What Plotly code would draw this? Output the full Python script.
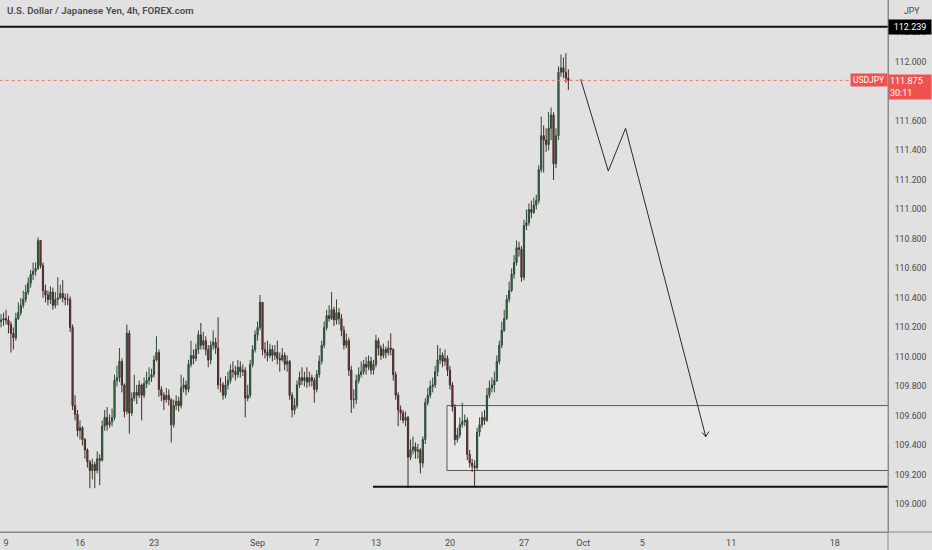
import plotly.graph_objects as go

# ---------------- data (USDJPY 4h, FOREX.com) ----------------
first_open = 110.24
close = [
    110.25, 110.26,
    110.25, 110.22, 110.16, 110.13, 110.26, 110.30,
    110.35, 110.39, 110.44, 110.50, 110.56, 110.58,
    110.60, 110.79, 110.62, 110.45, 110.42, 110.39,
    110.44, 110.35, 110.39, 110.40, 110.43, 110.40,
    110.39, 110.39, 110.20, 109.67, 109.61, 109.50,
    109.52, 109.44, 109.37, 109.29, 109.23, 109.27,
    109.23, 109.31, 109.30, 109.53, 109.59, 109.54,
    109.56, 109.59, 109.84, 109.86, 109.97, 109.81,
    109.63, 110.16, 109.62, 109.72, 109.76, 109.74,
    109.81, 109.74, 109.82, 109.84, 109.86, 109.88,
    109.98, 110.03, 109.78, 109.74, 109.71, 109.74,
    109.71, 109.54, 109.67, 109.70, 109.67, 109.79,
    109.81, 109.78, 109.95, 110.01, 109.99, 110.05,
    110.15, 110.08, 110.11, 110.05, 109.98, 110.08,
    110.10, 110.06, 109.81, 109.81, 109.74, 109.81,
    109.84, 109.91, 109.90, 109.88, 109.93, 109.90,
    109.91, 109.72, 109.74, 109.95, 110.05, 110.15,
    110.20, 110.37, 110.05, 110.03, 110.01, 110.05,
    110.01, 110.03, 109.99, 109.98, 110.01, 109.95,
    109.97, 109.74, 109.64, 109.67, 109.81, 109.86,
    109.84, 109.86, 109.83, 109.86, 109.84, 109.78,
    109.88, 109.97, 110.08, 110.20, 110.28, 110.26,
    110.32, 110.25, 110.30, 110.26, 110.18, 110.08,
    110.11, 109.91, 109.71, 109.71, 109.84, 109.88,
    109.90, 109.95, 109.93, 109.97, 109.91, 109.95,
    110.11, 110.06, 110.01, 110.05, 110.03, 110.06,
    110.05, 109.88, 109.74, 109.64, 109.62, 109.57,
    109.59, 109.32, 109.37, 109.39, 109.36, 109.37,
    109.28, 109.44, 109.69, 109.74, 109.80, 109.81,
    109.90, 109.98, 110.01, 109.97, 109.99, 109.91,
    109.81, 109.66, 109.44, 109.47, 109.54, 109.56,
    109.57, 109.34, 109.28, 109.26, 109.25, 109.49,
    109.54, 109.59, 109.57, 109.74, 109.79, 109.81,
    109.84, 109.97, 110.08, 110.18, 110.26, 110.39,
    110.45, 110.56, 110.64, 110.74, 110.73, 110.54,
    110.89, 110.91, 111.00, 110.98, 111.03, 111.06,
    111.27, 111.50, 111.47, 111.44, 111.55, 111.64,
    111.31, 111.50, 111.93, 111.96, 111.93, 111.89,
    111.875,
]
high = [
    110.29, 110.30,
    110.32, 110.28, 110.24, 110.20, 110.30, 110.37,
    110.40, 110.45, 110.49, 110.54, 110.59, 110.64,
    110.64, 110.81, 110.79, 110.64, 110.49, 110.45,
    110.48, 110.47, 110.44, 110.54, 110.49, 110.52,
    110.43, 110.43, 110.41, 110.22, 109.74, 109.64,
    109.57, 109.53, 109.45, 109.38, 109.30, 109.31,
    109.29, 109.36, 109.34, 109.57, 109.64, 109.66,
    109.61, 109.65, 109.88, 109.94, 110.06, 109.99,
    109.82, 110.22, 110.18, 109.76, 109.88, 109.81,
    109.84, 109.82, 109.86, 109.90, 109.93, 109.92,
    110.01, 110.14, 110.05, 109.80, 109.76, 109.79,
    109.78, 109.72, 109.71, 109.74, 109.73, 109.88,
    109.86, 109.84, 109.98, 110.11, 110.05, 110.09,
    110.18, 110.23, 110.17, 110.14, 110.08, 110.11,
    110.18, 110.13, 110.27, 109.86, 109.83, 109.87,
    109.90, 109.95, 109.97, 109.94, 109.98, 109.97,
    109.95, 109.93, 109.81, 109.98, 110.08, 110.18,
    110.24, 110.42, 110.37, 110.10, 110.11, 110.09,
    110.08, 110.08, 110.11, 110.03, 110.06, 110.03,
    110.01, 109.98, 109.76, 109.72, 109.84, 109.90,
    109.93, 109.90, 109.93, 109.90, 109.88, 109.86,
    109.91, 110.01, 110.11, 110.24, 110.32, 110.35,
    110.44, 110.34, 110.39, 110.33, 110.29, 110.21,
    110.16, 110.13, 109.94, 109.78, 109.88, 109.93,
    109.97, 109.98, 110.00, 110.01, 110.00, 109.98,
    110.15, 110.13, 110.08, 110.09, 110.07, 110.11,
    110.16, 110.06, 109.90, 109.76, 109.67, 109.64,
    109.63, 109.60, 109.44, 109.46, 109.42, 109.41,
    109.38, 109.46, 109.72, 109.79, 109.84, 109.86,
    109.94, 110.08, 110.06, 110.03, 110.05, 110.01,
    109.94, 109.83, 109.68, 109.52, 109.59, 109.69,
    109.61, 109.59, 109.37, 109.31, 109.30, 109.52,
    109.59, 109.63, 109.64, 109.79, 109.84, 109.86,
    109.90, 110.01, 110.11, 110.24, 110.32, 110.42,
    110.51, 110.60, 110.69, 110.79, 110.78, 110.75,
    110.93, 111.00, 111.04, 111.06, 111.08, 111.10,
    111.30, 111.63, 111.57, 111.55, 111.66, 111.69,
    111.66, 111.55, 111.97, 112.05, 112.03, 112.06,
    111.95,
]
low = [
    110.20, 110.21,
    110.22, 110.16, 110.03, 110.05, 110.11, 110.25,
    110.28, 110.33, 110.37, 110.42, 110.47, 110.52,
    110.55, 110.59, 110.60, 110.40, 110.37, 110.35,
    110.36, 110.32, 110.33, 110.35, 110.39, 110.37,
    110.35, 110.35, 110.17, 109.64, 109.57, 109.46,
    109.44, 109.40, 109.31, 109.25, 109.11, 109.17,
    109.11, 109.21, 109.13, 109.29, 109.50, 109.50,
    109.52, 109.53, 109.57, 109.80, 109.83, 109.76,
    109.59, 109.61, 109.48, 109.60, 109.70, 109.68,
    109.72, 109.57, 109.72, 109.79, 109.81, 109.83,
    109.86, 109.97, 109.73, 109.70, 109.64, 109.69,
    109.67, 109.42, 109.52, 109.64, 109.63, 109.65,
    109.76, 109.74, 109.76, 109.93, 109.95, 109.97,
    110.02, 110.05, 110.05, 110.01, 109.93, 109.95,
    110.05, 110.02, 109.78, 109.76, 109.71, 109.72,
    109.78, 109.82, 109.86, 109.84, 109.86, 109.86,
    109.87, 109.59, 109.70, 109.72, 109.93, 110.03,
    110.11, 110.18, 110.01, 109.99, 109.97, 109.99,
    109.97, 109.98, 109.95, 109.90, 109.97, 109.91,
    109.90, 109.71, 109.59, 109.61, 109.65, 109.79,
    109.81, 109.80, 109.79, 109.80, 109.80, 109.69,
    109.76, 109.86, 109.95, 110.06, 110.18, 110.24,
    110.25, 110.21, 110.22, 110.22, 110.14, 110.05,
    110.06, 109.87, 109.62, 109.65, 109.68, 109.82,
    109.86, 109.88, 109.88, 109.91, 109.88, 109.88,
    109.93, 110.01, 109.98, 109.99, 109.99, 110.01,
    110.01, 109.84, 109.71, 109.53, 109.57, 109.55,
    109.53, 109.11, 109.30, 109.34, 109.31, 109.31,
    109.21, 109.25, 109.41, 109.67, 109.72, 109.76,
    109.79, 109.87, 109.95, 109.93, 109.94, 109.87,
    109.78, 109.63, 109.40, 109.42, 109.45, 109.52,
    109.53, 109.30, 109.25, 109.22, 109.12, 109.23,
    109.46, 109.52, 109.54, 109.56, 109.72, 109.76,
    109.76, 109.83, 109.95, 110.06, 110.17, 110.25,
    110.37, 110.44, 110.53, 110.62, 110.68, 110.51,
    110.52, 110.86, 110.89, 110.94, 110.97, 111.00,
    111.04, 111.25, 111.25, 111.39, 111.40, 111.47,
    111.20, 111.28, 111.47, 111.90, 111.89, 111.86,
    111.81,
]
bar_index = list(range(-2, -2 + len(close)))
open_ = [first_open] + close[:-1]

# time axis (bar numbers, 6 bars per trading day; future space per calendar day)
tick_bars = [0, 30, 60, 102, 126, 150, 180, 210, 234, 258, 294, 336]
tick_labels = ["9", "16", "23", "Sep", "7", "13", "20", "27", "Oct", "5", "11", "18"]
x_view = [-2.43, 357.6]

# price axis
price_ticks = [109.0, 109.2, 109.4, 109.6, 109.8, 110.0, 110.2, 110.4, 110.6,
               110.8, 111.0, 111.2, 111.4, 111.6, 111.8, 112.0, 112.2, 112.4]
y_view = [108.813, 112.420]

# drawings
resistance_level = 112.239
last_price = 111.875
countdown = "30:11"
support_level = 109.12
support_start_bar = 148.8
zone_top = 109.67
zone_bottom = 109.23
zone_start_bar = 178.8
path_bars = [233.0, 244.2, 251.2, 283.7]
path_prices = [111.883, 111.26, 111.55, 109.46]
head_bars = [282.2, 283.7, 285.0]
head_prices = [109.488, 109.46, 109.494]

BG = "#e1e1e1"
TXT = "#4a4a4a"
FONT = "Roboto"

fig = go.Figure()

fig.add_trace(go.Candlestick(
    x=bar_index, open=open_, high=high, low=low, close=close,
    increasing=dict(line=dict(color="#2c4a35", width=1), fillcolor="#3d7350"),
    decreasing=dict(line=dict(color="#4a2a2a", width=1), fillcolor="#8a3a3a"),
    whiskerwidth=0, hoverinfo="skip", showlegend=False,
))

# forecast path
fig.add_trace(go.Scatter(x=path_bars, y=path_prices, mode="lines",
                         line=dict(color="#2a2a2a", width=1), hoverinfo="skip"))
fig.add_trace(go.Scatter(x=head_bars, y=head_prices, mode="lines",
                         line=dict(color="#2a2a2a", width=1), hoverinfo="skip"))

shapes = [
    # demand zone
    dict(type="rect", xref="x", yref="y", x0=zone_start_bar, x1=x_view[1] + 5,
         y0=zone_bottom, y1=zone_top, fillcolor="#e8e8e8",
         line=dict(color="#5a5a5a", width=1), layer="below"),
    # resistance
    dict(type="line", xref="x", yref="y", x0=x_view[0] - 5, x1=x_view[1] + 5,
         y0=resistance_level, y1=resistance_level, line=dict(color="#111111", width=2)),
    # support
    dict(type="line", xref="x", yref="y", x0=support_start_bar, x1=x_view[1] + 5,
         y0=support_level, y1=support_level, line=dict(color="#111111", width=2)),
    # last price dotted line
    dict(type="line", xref="x", yref="y", x0=x_view[0] - 5, x1=x_view[1] + 5,
         y0=last_price, y1=last_price, line=dict(color="#f07070", width=1, dash="dot")),
    # axis frame extensions
    dict(type="line", xref="paper", yref="paper", x0=0, x1=1.06, y0=0, y1=0,
         line=dict(color="#8a8a8a", width=1)),
    dict(type="line", xref="paper", yref="paper", x0=1, x1=1, y0=-0.05, y1=1,
         line=dict(color="#8a8a8a", width=1)),
]

annotations = [
    dict(xref="paper", yref="paper", x=5 / 888, y=1 - 11 / 532, xanchor="left", yanchor="middle",
         text="U.S. Dollar / Japanese Yen, 4h, FOREX.com", showarrow=False,
         font=dict(family=FONT, size=9.7, color=TXT, weight=600)),
    dict(xref="paper", yref="y", x=1, y=resistance_level, xanchor="left", yanchor="middle",
         text="112.239", showarrow=False, bgcolor="#000000", width=40, height=12,
         borderpad=1, font=dict(family=FONT, size=9, color="#ffffff")),
    dict(xref="paper", yref="y", x=1, y=last_price, xanchor="right", yanchor="middle",
         text="USDJPY", showarrow=False, bgcolor="#ef5350", width=34, height=10,
         borderpad=1, font=dict(family=FONT, size=8.5, color="#ffffff")),
    dict(xref="paper", yref="y", x=1, y=last_price, xanchor="left", yanchor="top", yshift=6,
         text="111.875<br>" + countdown, showarrow=False, bgcolor="#ef5350", width=40,
         borderpad=1, font=dict(family=FONT, size=9, color="#ffffff"), align="left"),
    dict(xref="paper", yref="paper", x=1, y=1 - 11 / 532, xanchor="left", yanchor="middle",
         xshift=14, text="JPY", showarrow=False, bgcolor=BG,
         font=dict(family=FONT, size=8.7, color=TXT)),
]

fig.update_layout(
    width=932, height=550,
    margin=dict(l=0, r=44, t=0, b=18),
    paper_bgcolor=BG, plot_bgcolor=BG,
    showlegend=False,
    shapes=shapes, annotations=annotations,
    xaxis=dict(range=x_view, tickmode="array", tickvals=tick_bars, ticktext=tick_labels,
               showgrid=False, zeroline=False, showline=True, linecolor="#8a8a8a",
               ticks="outside", ticklen=2, tickcolor="rgba(0,0,0,0)",
               tickfont=dict(family=FONT, size=9, color=TXT),
               rangeslider=dict(visible=False), fixedrange=True),
    yaxis=dict(range=y_view, side="right", tickmode="array", tickvals=price_ticks,
               ticktext=["%.3f" % v for v in price_ticks],
               showgrid=False, zeroline=False, showline=True, linecolor="#8a8a8a",
               ticks="outside", ticklen=4, tickcolor="rgba(0,0,0,0)",
               tickfont=dict(family=FONT, size=8.7, color=TXT), fixedrange=True),
)

fig.write_html("out.html", config={"displayModeBar": False},
               post_script="document.body.style.margin='0px';")
